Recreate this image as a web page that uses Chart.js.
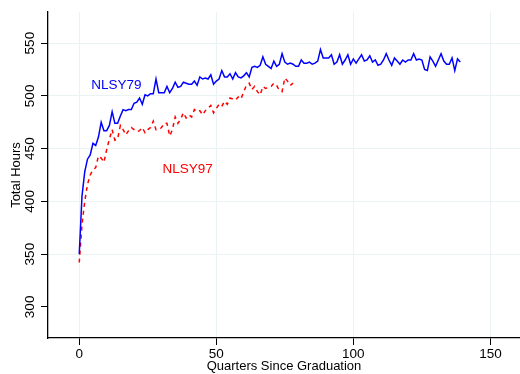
<!DOCTYPE html>
<html>
<head>
<meta charset="utf-8">
<script src="https://cdn.jsdelivr.net/npm/chart.js@4.4.1/dist/chart.umd.min.js"></script>
<style>
  html, body { margin: 0; padding: 0; background: #fff; }
  #wrap { width: 520px; height: 374px; }
</style>
</head>
<body>
<div id="wrap"><canvas id="hours"></canvas></div>
<script>
// quarters since graduation (x positions)
const quarters = Array.from({ length: 140 }, (_, i) => i);

// average total hours per quarter, NLSY79 cohort
const nlsy79 = [
  350, 405, 428, 440, 444, 455, 453, 461, 475, 467,
  467, 472, 485, 474, 474, 481, 487, 486, 487, 487,
  493, 494, 498, 492, 501, 500, 502, 502, 516, 503,
  503, 503, 509, 503, 507, 513, 508, 509, 513, 512,
  511, 511, 514, 510, 518, 516, 517, 516, 520, 511,
  514, 516, 524, 518, 518, 521, 516, 522, 518, 517,
  519, 522, 518, 527, 528, 527, 529, 537, 530, 528,
  526, 533, 528, 530, 540, 532, 530, 531, 530, 528,
  528, 534, 531, 531, 532, 530, 531, 533, 544, 536,
  536, 536, 539, 530, 532, 539, 530, 534, 539, 530,
  535, 531, 535, 539, 533, 534, 538, 532, 534, 529,
  530, 534, 540, 534, 529, 536, 533, 530, 534, 532,
  534, 534, 540, 534, 535, 534, 525, 524, 537, 533,
  528, 534, 540, 533, 530, 530, 536, 524, 535, 532
];

// average total hours per quarter, NLSY97 cohort
const nlsy97 = [
  342, 378, 400, 416, 425, 430, 432, 443, 441, 437,
  449, 459, 468, 458, 459, 472, 468, 463, 467, 470,
  468, 466, 467, 470, 465, 468, 470, 476, 468, 468,
  470, 474, 474, 462, 468, 480, 474, 478, 484, 479,
  482, 480, 487, 485, 486, 482, 486, 488, 491, 484,
  488, 492, 490, 495, 492, 498, 497, 496, 499, 497,
  504, 510, 512, 506, 509, 504, 501, 509, 507, 508,
  509, 512, 510, 505, 504, 517, 514, 510, 512
];

const xTicks = [0, 50, 100, 150];
const yTicks = [300, 350, 400, 450, 500, 550];

const font = 'Liberation Sans, Arial, Helvetica, sans-serif';

// in-plot series names and rotated y tick labels
const annotate = {
  id: 'annotate',
  afterDraw(chart) {
    const { ctx, scales: { x, y } } = chart;
    ctx.save();
    ctx.font = '13.5px ' + font;
    ctx.textBaseline = 'middle';
    ctx.textAlign = 'left';
    ctx.fillStyle = '#0000ff';
    ctx.fillText('NLSY79', x.getPixelForValue(4.4), y.getPixelForValue(510.5));
    ctx.fillStyle = '#ff0000';
    ctx.fillText('NLSY97', x.getPixelForValue(30.4), y.getPixelForValue(430));

    ctx.fillStyle = '#000';
    ctx.textAlign = 'center';
    yTicks.forEach(v => {
      ctx.save();
      ctx.translate(30.5, y.getPixelForValue(v));
      ctx.rotate(-Math.PI / 2);
      ctx.fillText(String(v), 0, 0);
      ctx.restore();
    });
    ctx.restore();
  }
};

new Chart(document.getElementById('hours'), {
  type: 'line',
  plugins: [annotate],
  data: {
    datasets: [
      {
        label: 'NLSY79',
        data: nlsy79.map((v, i) => ({ x: quarters[i], y: v })),
        borderColor: '#0000ff',
        borderWidth: 1.5,
        pointRadius: 0,
        tension: 0
      },
      {
        label: 'NLSY97',
        data: nlsy97.map((v, i) => ({ x: quarters[i], y: v })),
        borderColor: '#ff0000',
        borderWidth: 1.5,
        borderDash: [4, 4],
        pointRadius: 0,
        tension: 0
      }
    ]
  },
  options: {
    responsive: true,
    maintainAspectRatio: false,
    animation: false,
    layout: { padding: { top: 12, left: 0, right: 0, bottom: 0 } },
    plugins: {
      legend: { display: false },
      tooltip: { enabled: false }
    },
    scales: {
      x: {
        type: 'linear',
        min: -11.4,
        max: 160.8,
        afterBuildTicks: s => { s.ticks = xTicks.map(v => ({ value: v })); },
        afterFit: s => { s.height = 36; },
        grid: { color: '#eaf2f3', lineWidth: 1, tickColor: '#000', tickLength: 7 },
        border: { color: '#000', width: 1.3 },
        ticks: { color: '#000', padding: 1, maxRotation: 0, font: { family: font, size: 13.5 } },
        title: {
          display: true,
          text: 'Quarters Since Graduation',
          color: '#000',
          padding: { top: 0, bottom: 0 },
          font: { family: font, size: 13 }
        }
      },
      y: {
        min: 270.5,
        max: 579.5,
        afterBuildTicks: s => { s.ticks = yTicks.map(v => ({ value: v })); },
        afterFit: s => { s.width = 48; },
        grid: {
          color: c => (c.tick && c.tick.value === 300 ? 'rgba(0,0,0,0)' : '#eaf2f3'),
          lineWidth: 1,
          tickColor: '#000',
          tickLength: 7
        },
        border: { color: '#000', width: 1.3 },
        ticks: { display: false },
        title: {
          display: true,
          text: 'Total Hours',
          color: '#000',
          padding: { top: 9, bottom: 0 },
          font: { family: font, size: 13 }
        }
      }
    }
  }
});
</script>
</body>
</html>
